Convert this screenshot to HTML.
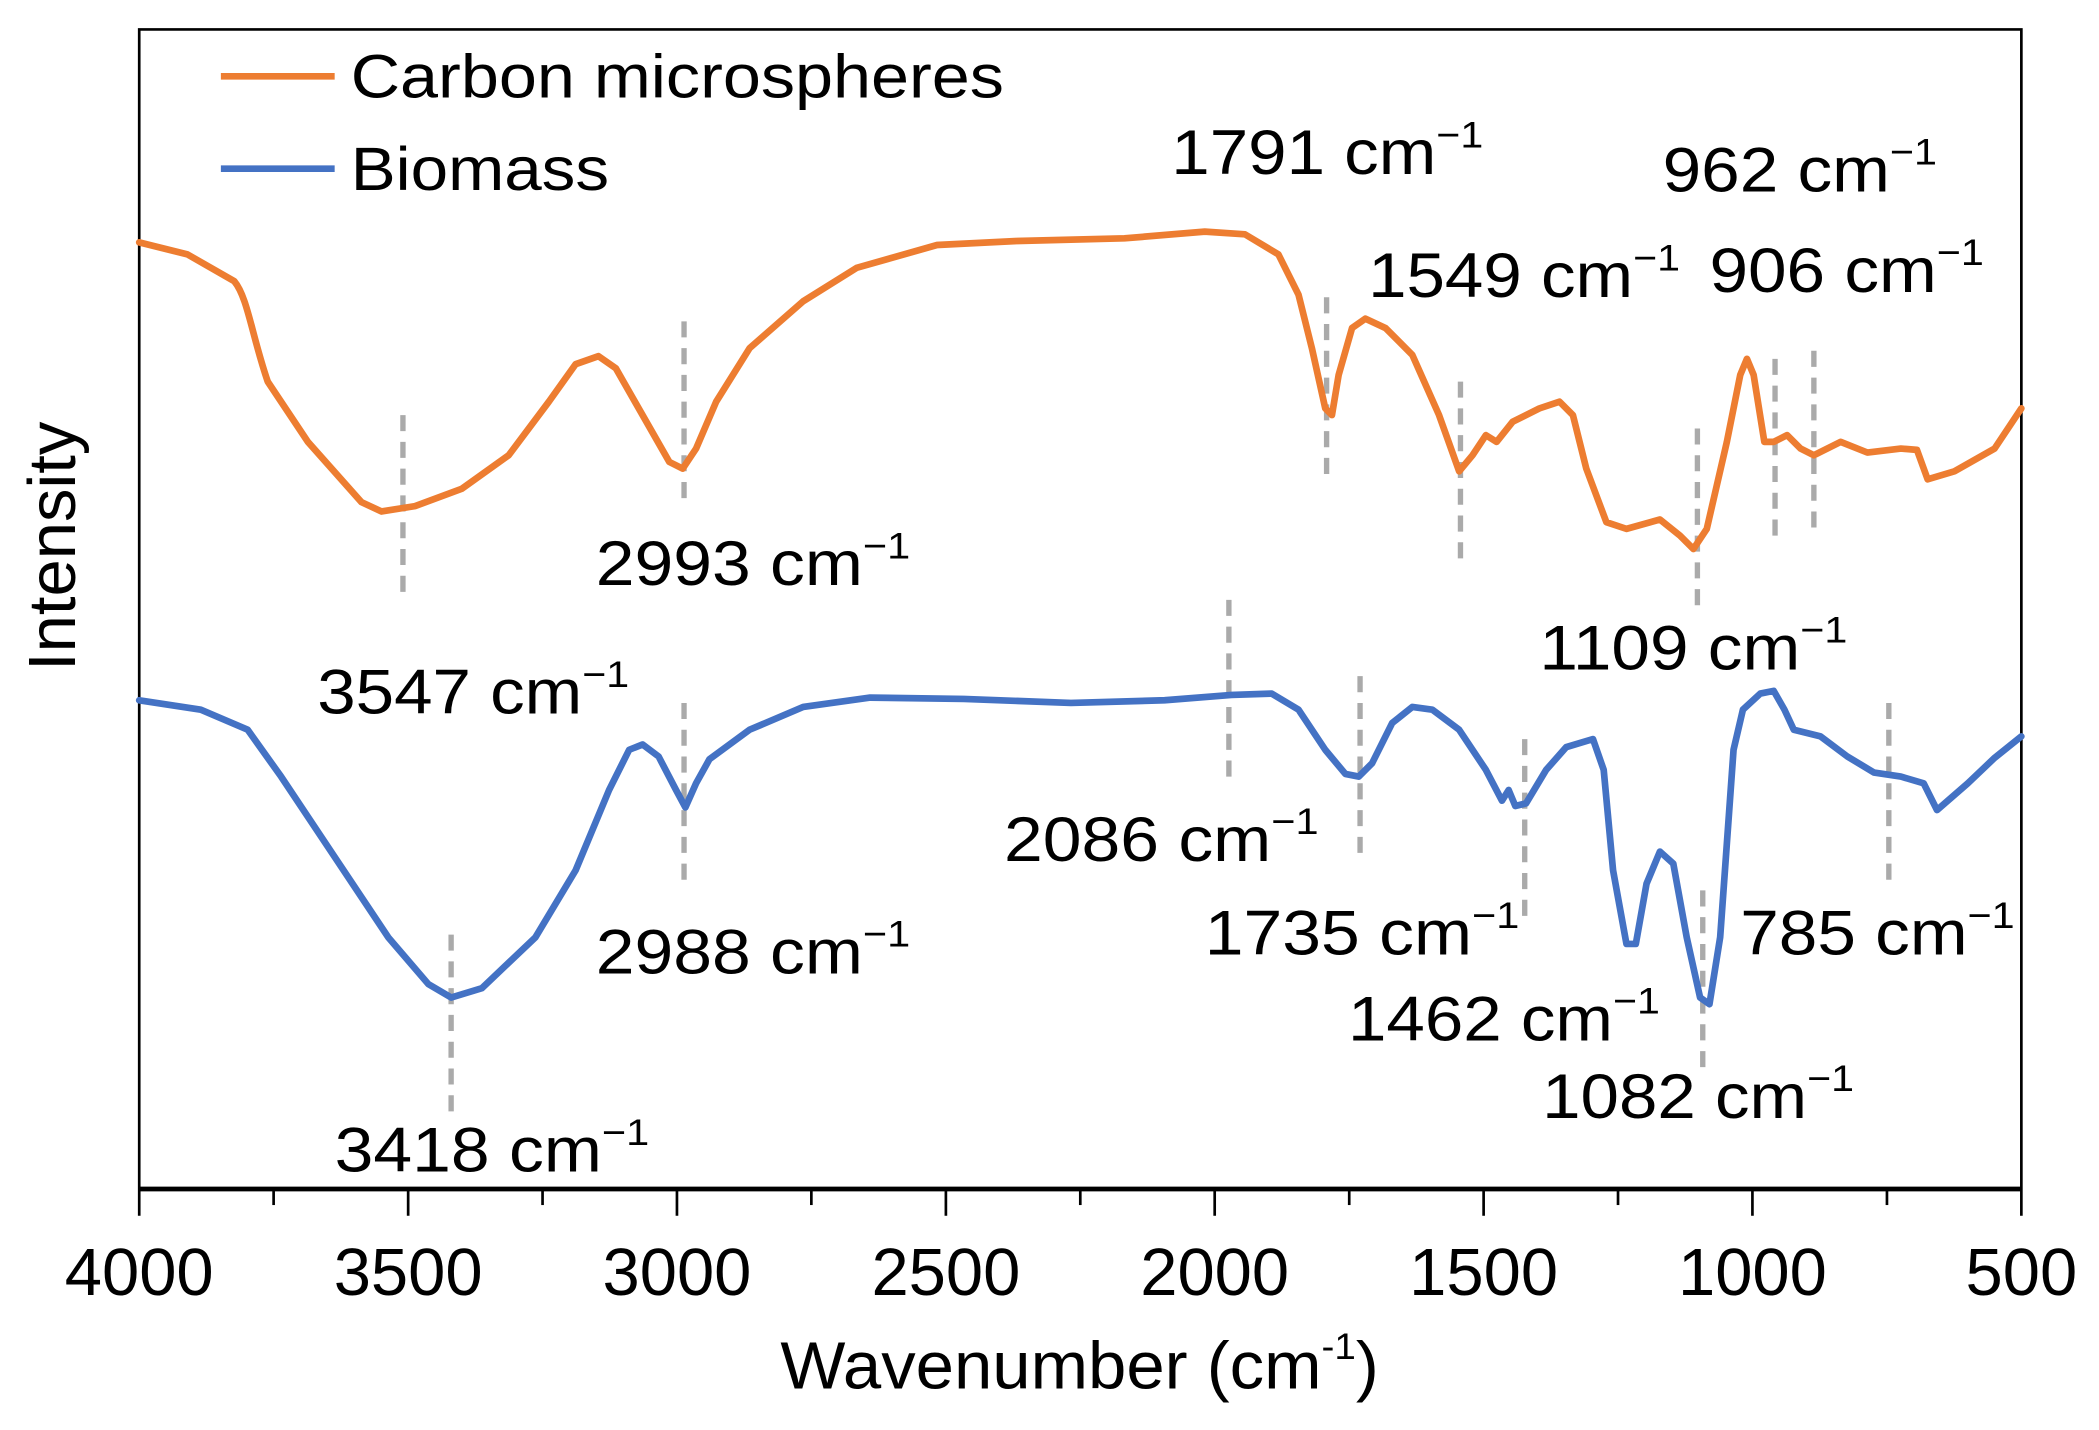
<!DOCTYPE html>
<html><head><meta charset="utf-8"><style>
html,body{margin:0;padding:0;background:#fff;}
svg{display:block;}
text{font-family:"Liberation Sans",Arial,sans-serif;fill:#000;}
</style></head><body>
<svg width="2099" height="1430" viewBox="0 0 1568 1068" preserveAspectRatio="none" xmlns="http://www.w3.org/2000/svg">
<rect x="0" y="0" width="1568" height="1068" fill="#fff"/>
<path d="M104,888 L104,22 L1510,22 L1510,888" fill="none" stroke="#000" stroke-width="2"/>
<line x1="104" y1="888" x2="1510" y2="888" stroke="#000" stroke-width="3.5"/>
<g stroke="#000" stroke-width="2">
<line x1="104" y1="888" x2="104" y2="908"/><line x1="204.4" y1="888" x2="204.4" y2="900"/>
<line x1="304.9" y1="888" x2="304.9" y2="908"/><line x1="405.3" y1="888" x2="405.3" y2="900"/>
<line x1="505.7" y1="888" x2="505.7" y2="908"/><line x1="606.1" y1="888" x2="606.1" y2="900"/>
<line x1="706.6" y1="888" x2="706.6" y2="908"/><line x1="807" y1="888" x2="807" y2="900"/>
<line x1="907.4" y1="888" x2="907.4" y2="908"/><line x1="1007.9" y1="888" x2="1007.9" y2="900"/>
<line x1="1108.3" y1="888" x2="1108.3" y2="908"/><line x1="1208.7" y1="888" x2="1208.7" y2="900"/>
<line x1="1309.1" y1="888" x2="1309.1" y2="908"/><line x1="1409.6" y1="888" x2="1409.6" y2="900"/>
<line x1="1510" y1="888" x2="1510" y2="908"/>
</g>
<g font-size="50" text-anchor="middle">
<text x="104" y="967">4000</text><text x="304.9" y="967">3500</text><text x="505.7" y="967">3000</text>
<text x="706.6" y="967">2500</text><text x="907.4" y="967">2000</text><text x="1108.3" y="967">1500</text>
<text x="1309.1" y="967">1000</text><text x="1510" y="967">500</text>
</g>
<text x="583" y="1037" font-size="50" textLength="447" lengthAdjust="spacingAndGlyphs">Wavenumber (cm<tspan font-size="28" dy="-22">-1</tspan><tspan dy="22">)</tspan></text>
<text transform="translate(56,408) rotate(-90)" font-size="50" text-anchor="middle">Intensity</text>
<line x1="165" y1="57" x2="250" y2="57" stroke="#ED7D31" stroke-width="5"/>
<text x="262" y="73" font-size="46" textLength="488" lengthAdjust="spacingAndGlyphs">Carbon microspheres</text>
<line x1="165" y1="126" x2="250" y2="126" stroke="#4472C4" stroke-width="5"/>
<text x="262" y="142" font-size="46" textLength="193" lengthAdjust="spacingAndGlyphs">Biomass</text>
<g stroke="#aaa" stroke-width="4" stroke-dasharray="12,8">
<line x1="301" y1="310" x2="301" y2="447"/><line x1="511" y1="240" x2="511" y2="378"/>
<line x1="991" y1="222" x2="991" y2="360"/><line x1="1091" y1="285" x2="1091" y2="422"/>
<line x1="1268" y1="320" x2="1268" y2="458"/><line x1="1326" y1="268" x2="1326" y2="405"/>
<line x1="1355" y1="262" x2="1355" y2="400"/><line x1="918" y1="448" x2="918" y2="585"/>
<line x1="1016" y1="505" x2="1016" y2="643"/><line x1="1139" y1="552" x2="1139" y2="690"/>
<line x1="1411" y1="525" x2="1411" y2="662"/><line x1="511" y1="525" x2="511" y2="662"/>
<line x1="337" y1="698" x2="337" y2="835"/><line x1="1272" y1="665" x2="1272" y2="802"/>
</g>
<path fill="none" stroke="#ED7D31" stroke-width="5" stroke-linejoin="round" stroke-linecap="round" d="M104,181 L140,190 L175,210 C185,222 188,250 200,285 L230,330 L270,375 L285,382 L310,378 L345,365 L380,340 L410,300 L430,272 L447,266 L460,275 L480,310 L500,345 L510,350 L520,335 L535,300 L560,260 L600,225 L640,200 L700,183 L760,180 L840,178 L900,173 L930,175 L955,190 L970,220 L980,260 L990,305 L995,310 L1000,280 L1010,245 L1020,238 L1035,245 L1055,265 L1075,310 L1090,352 L1100,340 L1110,325 L1118,330 L1130,315 L1150,305 L1165,300 L1175,310 L1185,350 L1200,390 L1215,395 L1240,388 L1255,400 L1265,410 L1275,395 L1290,330 L1300,280 L1305,268 L1310,280 L1318,330 L1325,330 L1335,325 L1345,335 L1355,340 L1375,330 L1395,338 L1420,335 L1432,336 L1440,358 L1460,352 L1490,335 L1510,305"/>
<path fill="none" stroke="#4472C4" stroke-width="5" stroke-linejoin="round" stroke-linecap="round" d="M104,523 L150,530 L185,545 L210,580 L250,640 L290,700 L320,735 L337,745 L360,738 L400,700 L430,650 L455,590 L470,560 L480,556 L492,565 L505,590 L512,603 L520,585 L530,567 L560,545 L600,528 L650,521 L720,522 L800,525 L870,523 L920,519 L950,518 L970,530 L990,560 L1005,578 L1015,580 L1025,570 L1040,540 L1055,528 L1070,530 L1090,545 L1110,575 L1122,598 L1127,590 L1132,602 L1140,600 L1155,575 L1170,558 L1190,552 L1198,575 L1205,650 L1215,705 L1222,705 L1230,660 L1240,636 L1250,645 L1260,700 L1270,745 L1277,750 L1285,700 L1295,560 L1302,530 L1315,518 L1325,516 L1333,530 L1340,545 L1360,550 L1380,565 L1400,577 L1420,580 L1437,585 L1447,605 L1470,585 L1490,566 L1510,550"/>
<g font-size="47">
<text x="237" y="533" textLength="233" lengthAdjust="spacingAndGlyphs">3547 cm<tspan font-size="28" dy="-20">−1</tspan></text>
<text x="445" y="437" textLength="235" lengthAdjust="spacingAndGlyphs">2993 cm<tspan font-size="28" dy="-20">−1</tspan></text>
<text x="875" y="130" textLength="233" lengthAdjust="spacingAndGlyphs">1791 cm<tspan font-size="28" dy="-20">−1</tspan></text>
<text x="1022" y="222" textLength="233" lengthAdjust="spacingAndGlyphs">1549 cm<tspan font-size="28" dy="-20">−1</tspan></text>
<text x="1242" y="143" textLength="205" lengthAdjust="spacingAndGlyphs">962 cm<tspan font-size="28" dy="-20">−1</tspan></text>
<text x="1277" y="218" textLength="205" lengthAdjust="spacingAndGlyphs">906 cm<tspan font-size="28" dy="-20">−1</tspan></text>
<text x="1150" y="500" textLength="230" lengthAdjust="spacingAndGlyphs">1109 cm<tspan font-size="28" dy="-20">−1</tspan></text>
<text x="445" y="727" textLength="235" lengthAdjust="spacingAndGlyphs">2988 cm<tspan font-size="28" dy="-20">−1</tspan></text>
<text x="750" y="643" textLength="235" lengthAdjust="spacingAndGlyphs">2086 cm<tspan font-size="28" dy="-20">−1</tspan></text>
<text x="900" y="713" textLength="235" lengthAdjust="spacingAndGlyphs">1735 cm<tspan font-size="28" dy="-20">−1</tspan></text>
<text x="1007" y="777" textLength="233" lengthAdjust="spacingAndGlyphs">1462 cm<tspan font-size="28" dy="-20">−1</tspan></text>
<text x="1152" y="835" textLength="233" lengthAdjust="spacingAndGlyphs">1082 cm<tspan font-size="28" dy="-20">−1</tspan></text>
<text x="1300" y="713" textLength="205" lengthAdjust="spacingAndGlyphs">785 cm<tspan font-size="28" dy="-20">−1</tspan></text>
<text x="250" y="875" textLength="235" lengthAdjust="spacingAndGlyphs">3418 cm<tspan font-size="28" dy="-20">−1</tspan></text>
</g>
</svg>
</body></html>
